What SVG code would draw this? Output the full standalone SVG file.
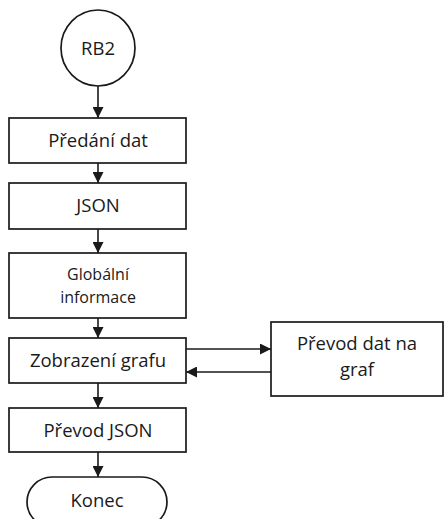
<svg xmlns="http://www.w3.org/2000/svg" width="446" height="519" viewBox="0 0 446 519">
  <defs>
    <marker id="arrow" viewBox="0 0 10 10" refX="10" refY="5" markerWidth="11" markerHeight="11" markerUnits="userSpaceOnUse" orient="auto">
      <path d="M0,0 L10,5 L0,10 z" fill="#1a1a1a"/>
    </marker>
    <style>
      .shape { fill: #ffffff; stroke: #1a1a1a; stroke-width: 1.7; }
      .label { font-family: "Open Sans", "Liberation Sans", sans-serif; font-size: 18.5px; fill: #1a1a1a; text-anchor: middle; }
      .small { font-size: 16px; }
      .conn { fill: none; stroke: #1a1a1a; stroke-width: 1.6; marker-end: url(#arrow); }
    </style>
  </defs>
  <rect width="446" height="519" fill="#ffffff"/>

  <g id="connectors">
    <line class="conn" x1="98" y1="86" x2="98" y2="118"/>
    <line class="conn" x1="98" y1="163" x2="98" y2="183"/>
    <line class="conn" x1="98" y1="229" x2="98" y2="253"/>
    <line class="conn" x1="98" y1="318" x2="98" y2="338"/>
    <line class="conn" x1="186" y1="349" x2="271" y2="349"/>
    <line class="conn" x1="271" y1="372" x2="186" y2="372"/>
    <line class="conn" x1="98" y1="383" x2="98" y2="408"/>
    <line class="conn" x1="98" y1="452" x2="98" y2="477"/>
  </g>

  <g id="start">
    <ellipse class="shape" cx="98" cy="48" rx="37" ry="38"/>
    <text class="label" x="98" y="55">RB2</text>
  </g>

  <g id="predani">
    <rect class="shape" x="9" y="118" width="177" height="45"/>
    <text class="label" x="98" y="147">Předání dat</text>
  </g>

  <g id="json">
    <rect class="shape" x="9" y="183" width="177" height="46"/>
    <text class="label" x="98" y="212">JSON</text>
  </g>

  <g id="globalni">
    <rect class="shape" x="9" y="253" width="177" height="65"/>
    <text class="label small" x="98" y="280">Globální</text>
    <text class="label small" x="98" y="303">informace</text>
  </g>

  <g id="zobrazeni">
    <rect class="shape" x="9" y="338" width="177" height="45"/>
    <text class="label" x="98" y="367">Zobrazení grafu</text>
  </g>

  <g id="prevod-dat">
    <rect class="shape" x="271" y="322" width="172" height="74"/>
    <text class="label" x="357" y="350">Převod dat na</text>
    <text class="label" x="357" y="376">graf</text>
  </g>

  <g id="prevod-json">
    <rect class="shape" x="9" y="408" width="177" height="44"/>
    <text class="label" x="98" y="437">Převod JSON</text>
  </g>

  <g id="konec">
    <rect class="shape" x="27" y="477" width="140" height="50" rx="25" ry="25"/>
    <text class="label" x="97" y="507">Konec</text>
  </g>
</svg>
